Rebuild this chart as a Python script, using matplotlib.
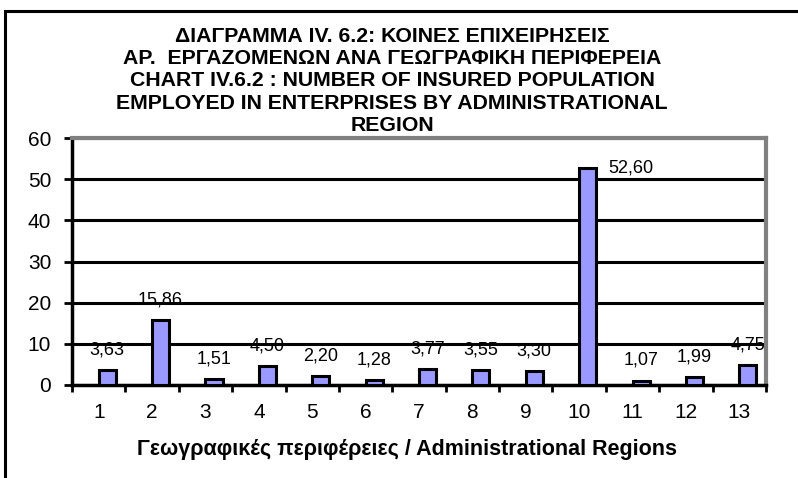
import matplotlib
matplotlib.use("Agg")
import matplotlib.pyplot as plt
from matplotlib.patches import Rectangle
from matplotlib.ticker import FixedLocator

plt.rcParams['font.family'] = ['Liberation Sans', 'DejaVu Sans']

# Ποσοστά ανά γεωγραφική περιφέρεια
regions = list(range(1, 14))
shares = [3.63, 15.86, 1.51, 4.50, 2.20, 1.28, 3.77, 3.55, 3.30, 52.60, 1.07, 1.99, 4.75]
ytick_values = [0, 10, 20, 30, 40, 50, 60]

title_lines = [
    "ΔΙΑΓΡΑΜΜΑ IV. 6.2: ΚΟΙΝΕΣ ΕΠΙΧΕΙΡΗΣΕΙΣ",
    "ΑΡ.  ΕΡΓΑΖΟΜΕΝΩΝ ΑΝΑ ΓΕΩΓΡΑΦΙΚΗ ΠΕΡΙΦΕΡΕΙΑ",
    "CHART IV.6.2 : NUMBER OF INSURED POPULATION",
    "EMPLOYED IN ENTERPRISES BY ADMINISTRATIONAL",
    "REGION",
]
xlabel = "Γεωγραφικές περιφέρειες / Administrational Regions"

W, H = 798, 478
fig = plt.figure(figsize=(W / 100, H / 100), dpi=100)

# outer chart frame (runs off the right and bottom edges)
fig.patches.append(Rectangle((5 / W, -0.1), 1.2, (H - 11) / H + 0.1,
                             transform=fig.transFigure, fill=False,
                             edgecolor='black', linewidth=2.2, zorder=0))

ax = fig.add_axes([72 / W, 93 / H, (766 - 72) / W, (385 - 138) / H])

# bars sit just right of the category centre
ax.bar(regions, shares, width=0.32, align='edge', color='#9999FF',
       edgecolor='black', linewidth=2.2, zorder=3)

for x, v in zip(regions, shares):
    txt = f"{v:.2f}".replace('.', ',')
    if v > 50:
        ax.annotate(txt, (x + 0.32, v), xytext=(9, 0), textcoords='offset points',
                    ha='left', va='center', fontsize=13, zorder=4)
    else:
        ax.annotate(txt, (x + 0.16, v), xytext=(0, 14.5), textcoords='offset points',
                    ha='center', va='center', fontsize=13, zorder=4)

ax.set_xlim(0.5, 13.5)
ax.set_ylim(0, 60)

ax.set_yticks(ytick_values)
ax.tick_params(axis='y', direction='out', length=6, width=2, labelsize=15, pad=9)
ax.yaxis.grid(True, color='black', linewidth=2.2, zorder=1)

ax.set_xticks(regions)
ax.set_xticklabels([str(r) for r in regions])
ax.tick_params(axis='x', which='major', length=0, labelsize=15, pad=13)
ax.xaxis.set_minor_locator(FixedLocator([r + 0.5 for r in [0] + regions]))
ax.tick_params(axis='x', which='minor', direction='out', length=5, width=2)
ax.set_axisbelow(True)

for side in ('left', 'bottom'):
    ax.spines[side].set_color('black')
    ax.spines[side].set_linewidth(2.5)
for side in ('top', 'right'):
    ax.spines[side].set_color('#808080')
    ax.spines[side].set_linewidth(3)

fig.text(407 / W, 1 - 449 / H, xlabel, ha='center', va='center',
         fontsize=15.5, fontweight='bold')

fig.text(392 / W, 1 - 81 / H, "\n".join(title_lines), ha='center', va='center',
         fontsize=15.3, fontweight='bold', linespacing=1.22)

fig.savefig("out.png", dpi=100)
